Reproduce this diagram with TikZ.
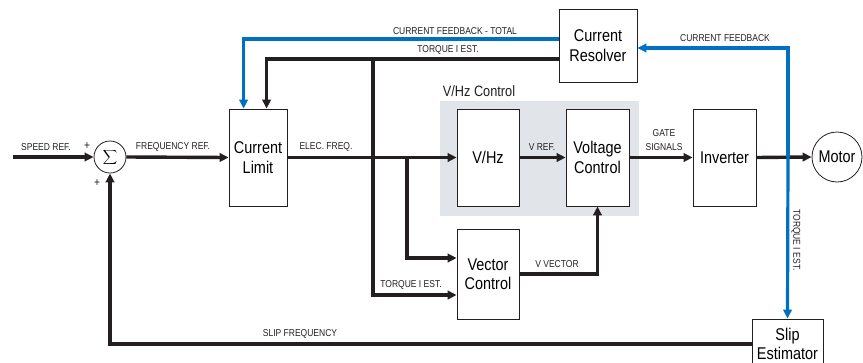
\documentclass[tikz,border=0pt]{standalone}
\usepackage{fontspec}
\setmainfont[FakeStretch=0.85]{Liberation Sans}
\usetikzlibrary{arrows.meta, calc}
\definecolor{C0}{RGB}{  0,112,192}
\definecolor{C1}{RGB}{ 35, 31, 32}
\definecolor{C2}{RGB}{225,228,233}

\begin{document}
\begin{tikzpicture}[x=1pt, y=-1pt,
    block/.style={draw=C1, line width=0.8pt, fill=white, align=center, inner sep=0pt,
                  font=\fontsize{17}{19.5}\selectfont},
    sig/.style={draw=C1, line width=3.4pt, -{Triangle[length=9pt,width=8.5pt]}},
    fb/.style={draw=C0, line width=3.2pt, -{Triangle[length=9pt,width=8.5pt]}},
    lbl/.style={text=C1, inner sep=0pt, font=\fontsize{10}{14}\selectfont}]
    \useasboundingbox (0,0) rectangle (863,362);
    %% shaded V/Hz group
    \node[fill=C2, minimum width=199pt, minimum height=115pt, inner sep=0pt] (vhzarea) at (539.5,158.5) {};
    \node[text=C1, font=\fontsize{15}{16}\selectfont] (vhzname) at (479,91) {V/Hz Control};
    %% blocks
    \node[draw=C1, line width=0.8pt, circle, minimum size=32pt, inner sep=0pt,
          font=\fontsize{15}{15}\selectfont] (sum) at (110,157) {$\displaystyle\sum$};
    \node[block, minimum width=58pt, minimum height=97pt] (limit)    at (258,157.5) {Current\\Limit};
    \node[block, minimum width=78pt, minimum height=73pt] (resolver) at (598,45.5)  {Current\\Resolver};
    \node[block, minimum width=62pt, minimum height=97pt] (vhz)      at (488,157.5) {V/Hz};
    \node[block, minimum width=63pt, minimum height=97pt] (volt)     at (597.5,157.5) {Voltage\\Control};
    \node[block, minimum width=63pt, minimum height=97pt] (inv)      at (724.5,157.5) {Inverter};
    \node[block, minimum width=62pt, minimum height=90pt] (vec)      at (488,274)   {Vector\\Control};
    \node[block, minimum width=71pt, minimum height=50pt] (slip)     at (787.5,344) {Slip\\Estimator};
    \node[block, circle, minimum size=50pt] (motor) at (837,157) {Motor};
    %% branch points
    \coordinate (src) at (13,157);
    \coordinate (jt) at (373,59);
    \coordinate (jf) at (407,157);
    \coordinate (jm) at (788,157);
    %% forward path
    \draw[sig] (src) -- (sum.west);
    \draw[sig] (sum.east) -- (limit.west);
    \draw[sig] (limit.east) -- (vhz.west);
    \draw[sig] (jf) |- ($(vec.west)+(0,-16)$);
    \draw[sig] (jt) |- ($(vec.west)+(0,21)$);
    \draw[sig] (vhz.east) -- (volt.west);
    \draw[sig] (vec.east) -| (volt.south);
    \draw[sig] (volt.east) -- (inv.west);
    \draw[sig] (inv.east) -- (motor.west);
    %% feedback paths
    \draw[sig] ($(resolver.west)+(0,13.5)$) -| ($(limit.north west)+(38,0)$);
    \draw[fb] ($(resolver.west)+(0,-6.5)$) -| ($(limit.north west)+(15,0)$);
    \draw[fb] (jm) |- ($(resolver.east)+(0,2.5)$);
    \draw[fb] (jm) -- (slip.north);
    \draw[sig] (slip.west) -| (sum.south);
    %% labels
    \node[text=C1, font=\fontsize{12}{12}\selectfont] at (87,146) {+};
    \node[text=C1, font=\fontsize{12}{12}\selectfont] at (97,183) {+};
    \node[lbl] at (46,147)  {SPEED REF.};
    \node[lbl] at (173,147) {FREQUENCY REF.};
    \node[lbl] at (326,147) {ELEC. FREQ.};
    \node[lbl] at (542,147) {V REF.};
    \node[lbl, align=center] at (664,140) {GATE\\SIGNALS};
    \node[lbl] at (557,264) {V VECTOR};
    \node[lbl] at (411,285) {TORQUE I EST.};
    \node[lbl] at (455,31)  {CURRENT FEEDBACK - TOTAL};
    \node[lbl] at (448,50)  {TORQUE I EST.};
    \node[lbl] at (725,38)  {CURRENT FEEDBACK};
    \node[lbl, rotate=-90] at (796,240) {TORQUE I EST.};
    \node[lbl] at (300,334) {SLIP FREQUENCY};
\end{tikzpicture}
\end{document}
